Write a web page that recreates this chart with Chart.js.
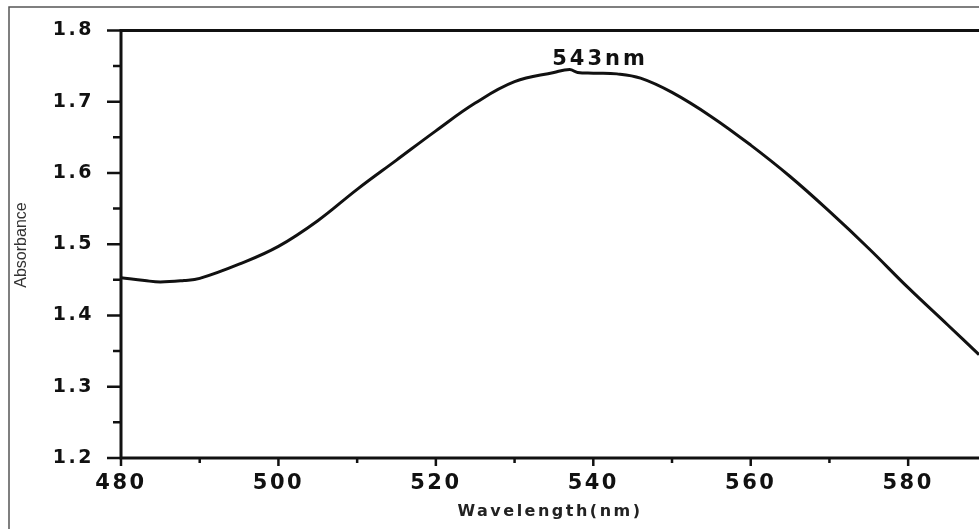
<!DOCTYPE html>
<html>
<head>
<meta charset="utf-8">
<script src="https://cdn.jsdelivr.net/npm/chart.js@4"></script>
<style>
  html, body { margin: 0; padding: 0; background: #fff; }
  #wrap { width: 979px; height: 529px; position: relative; }
</style>
</head>
<body>
<div id="wrap"><canvas id="grafico"></canvas></div>
<script>
const comprimentos = [480, 483, 485, 488, 490, 495, 500, 505, 510, 515, 520, 525, 530, 535, 537,
  538, 540, 543, 546, 550, 555, 560, 565, 570, 575, 580, 585, 589];
const absorbancia = [1.453, 1.449, 1.447, 1.449, 1.452, 1.472, 1.497, 1.533, 1.577, 1.618, 1.659,
  1.698, 1.728, 1.741, 1.745, 1.741, 1.740, 1.739, 1.733, 1.713, 1.679, 1.639, 1.595, 1.546, 1.494,
  1.439, 1.387, 1.345];
const limitesX = [480, 589];
const limitesY = [1.2, 1.8];
const rotuloPico = '543nm';
const posPico = [540.6, 1.752];
const tituloX = 'Wavelength(nm)';
const tituloY = 'Absorbance';

const pontos = comprimentos.map((x, i) => ({ x: x, y: absorbancia[i] }));

const eixos = {
  id: 'eixos',
  beforeDraw(chart) {
    chart.ctx.letterSpacing = '2.5px';
  },
  afterDraw(chart) {
    const ctx = chart.ctx;
    const area = chart.chartArea;
    const sx = chart.scales.x;
    const sy = chart.scales.y;
    ctx.save();
    ctx.letterSpacing = '0px';

    // moldura externa
    ctx.strokeStyle = '#555';
    ctx.lineWidth = 1.5;
    ctx.beginPath();
    ctx.moveTo(9, chart.height);
    ctx.lineTo(9, 7);
    ctx.lineTo(chart.width, 7);
    ctx.stroke();

    // linhas dos eixos
    ctx.strokeStyle = '#111';
    ctx.lineWidth = 3;
    ctx.beginPath();
    ctx.moveTo(area.left, area.bottom);
    ctx.lineTo(area.left, area.top);
    ctx.moveTo(area.left - 1.5, area.top);
    ctx.lineTo(chart.width, area.top);
    ctx.moveTo(area.left - 1.5, area.bottom);
    ctx.lineTo(chart.width, area.bottom);
    ctx.stroke();

    // marcas principais e secundarias
    ctx.lineWidth = 2.5;
    ctx.beginPath();
    sy.ticks.forEach((t, i) => {
      const y = sy.getPixelForValue(t.value);
      ctx.moveTo(area.left, y);
      ctx.lineTo(area.left - 14, y);
      if (i < sy.ticks.length - 1) {
        const ym = sy.getPixelForValue((t.value + sy.ticks[i + 1].value) / 2);
        ctx.moveTo(area.left, ym);
        ctx.lineTo(area.left - 8, ym);
      }
    });
    sx.ticks.forEach((t) => {
      const x = sx.getPixelForValue(t.value);
      ctx.moveTo(x, area.bottom);
      ctx.lineTo(x, area.bottom + 8);
      const xm = sx.getPixelForValue(t.value + 10);
      if (xm < chart.width) {
        ctx.moveTo(xm, area.bottom);
        ctx.lineTo(xm, area.bottom + 5);
      }
    });
    ctx.stroke();

    // titulo do eixo y
    ctx.fillStyle = '#333';
    ctx.font = '16px "Liberation Sans Narrow", "Liberation Sans", Arial, sans-serif';
    ctx.textAlign = 'center';
    ctx.textBaseline = 'middle';
    ctx.translate(22, 245);
    ctx.rotate(-Math.PI / 2);
    ctx.fillText(tituloY, 0, 0);
    ctx.restore();

    // rotulo do pico
    ctx.save();
    ctx.letterSpacing = '3px';
    ctx.fillStyle = '#111';
    ctx.font = 'bold 21px "DejaVu Sans", sans-serif';
    ctx.textAlign = 'center';
    ctx.textBaseline = 'alphabetic';
    ctx.fillText(rotuloPico, sx.getPixelForValue(posPico[0]) + 2, sy.getPixelForValue(posPico[1]));
    ctx.restore();
  }
};

new Chart(document.getElementById('grafico'), {
  type: 'line',
  data: {
    datasets: [{
      data: pontos,
      borderColor: '#111',
      borderWidth: 3,
      pointRadius: 0,
      fill: false,
      tension: 0.4
    }]
  },
  options: {
    responsive: true,
    maintainAspectRatio: false,
    animation: false,
    layout: { padding: { top: 30, left: 0, right: 0, bottom: 0 } },
    plugins: {
      legend: { display: false },
      tooltip: { enabled: false }
    },
    scales: {
      x: {
        type: 'linear',
        min: limitesX[0],
        max: limitesX[1],
        grid: { display: false },
        border: { display: false },
        ticks: {
          stepSize: 20,
          includeBounds: false,
          maxRotation: 0,
          padding: 5,
          color: '#111',
          font: { family: '"DejaVu Sans", sans-serif', size: 21, weight: 'bold' }
        },
        title: {
          display: true,
          text: tituloX,
          color: '#222',
          padding: { top: 4, bottom: 8 },
          font: { family: '"DejaVu Sans", sans-serif', size: 16, weight: 'bold' }
        },
        afterFit(scale) { scale.height = 71; }
      },
      y: {
        min: limitesY[0],
        max: limitesY[1],
        grid: { display: false },
        border: { display: false },
        ticks: {
          stepSize: 0.1,
          padding: 19,
          color: '#111',
          font: { family: '"DejaVu Sans", sans-serif', size: 19, weight: 'bold' },
          callback: (v) => v.toFixed(1)
        },
        afterFit(scale) { scale.width = 121; }
      }
    }
  },
  plugins: [eixos]
});
</script>
</body>
</html>
